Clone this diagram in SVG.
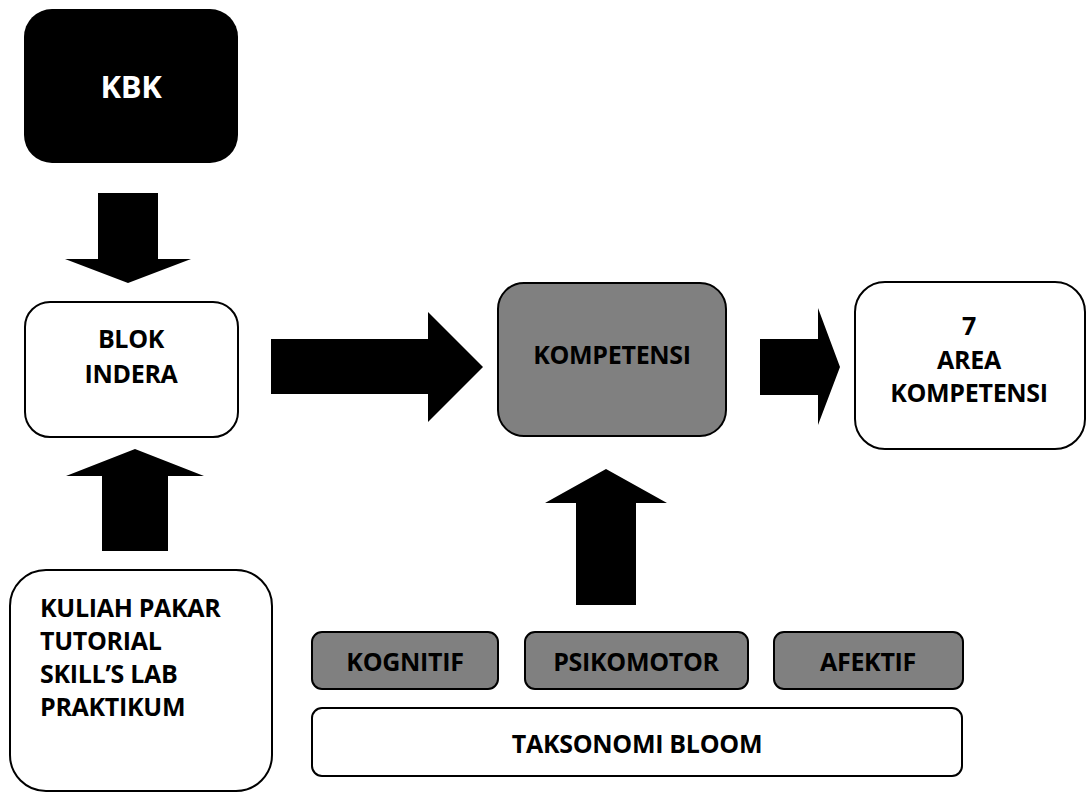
<svg xmlns="http://www.w3.org/2000/svg" width="1086" height="792" viewBox="0 0 1086 792">
<style>
text{font-family:"Open Sans","Noto Sans","Liberation Sans",sans-serif;font-weight:bold;font-size:25px;letter-spacing:-0.3px;fill:#000}
.box{fill:#fff;stroke:#000;stroke-width:2}
.gray{fill:#808080;stroke:#000;stroke-width:2}
.arrow{fill:#000;stroke:none}
.c{text-anchor:middle}
</style>
<rect width="1086" height="792" fill="#fff"/>
<g id="kbk">
<rect x="24" y="9" width="214" height="154" rx="28" ry="28" fill="#000"/>
<text x="131" y="98" class="c" style="fill:#fff;font-size:31px">KBK</text>
</g>
<g id="blok-indera">
<rect class="box" x="25" y="302" width="213" height="135" rx="25" ry="25"/>
<text x="131" y="348" class="c">BLOK</text>
<text x="131" y="383" class="c">INDERA</text>
</g>
<g id="kompetensi">
<rect class="gray" x="498" y="283" width="228" height="153" rx="26" ry="26"/>
<text x="612" y="364" class="c">KOMPETENSI</text>
</g>
<g id="area-kompetensi">
<rect class="box" x="855" y="282" width="230" height="167" rx="30" ry="30"/>
<text x="969" y="335" class="c">7</text>
<text x="969" y="369" class="c">AREA</text>
<text x="969" y="402" class="c">KOMPETENSI</text>
</g>
<g id="kuliah">
<rect class="box" x="10" y="570" width="262" height="221" rx="36" ry="36"/>
<text x="40" y="617">KULIAH PAKAR</text>
<text x="40" y="650">TUTORIAL</text>
<text x="40" y="683">SKILL’S LAB</text>
<text x="40" y="716">PRAKTIKUM</text>
</g>
<g id="kognitif">
<rect class="gray" x="312" y="632" width="186" height="57" rx="10" ry="10"/>
<text x="405" y="671" class="c">KOGNITIF</text>
</g>
<g id="psikomotor">
<rect class="gray" x="525" y="632" width="223" height="57" rx="10" ry="10"/>
<text x="636" y="671" class="c">PSIKOMOTOR</text>
</g>
<g id="afektif">
<rect class="gray" x="774" y="632" width="189" height="57" rx="10" ry="10"/>
<text x="868" y="671" class="c">AFEKTIF</text>
</g>
<g id="taksonomi-bloom">
<rect class="box" x="312" y="708" width="650" height="68" rx="10" ry="10"/>
<text x="637" y="753" class="c">TAKSONOMI BLOOM</text>
</g>
<g id="connectors">
<polygon class="arrow" points="98,193 158,193 158,259 191,259 128,283 65,259 98,259"/>
<polygon class="arrow" points="271,339 428,339 428,312 483,367 428,422 428,394 271,394"/>
<polygon class="arrow" points="760,339 818,339 818,308 840,367 818,425 818,395 760,395"/>
<polygon class="arrow" points="102,551 168,551 168,476 204,476 135,449 66,476 102,476"/>
<polygon class="arrow" points="576,605 636,605 636,503 667,503 606,469 545,503 576,503"/>
</g>
</svg>
